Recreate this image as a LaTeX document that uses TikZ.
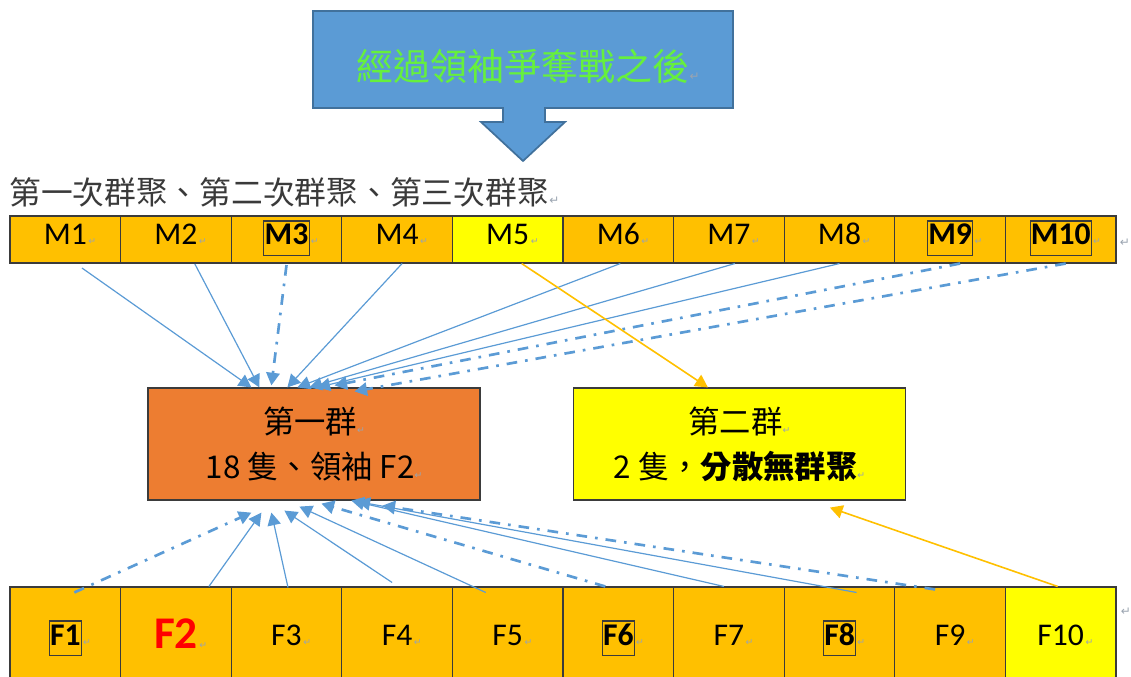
\documentclass[tikz,border=0pt]{standalone}
\usepackage{fontspec}
\setmainfont{Carlito}
\newfontfamily\cjk{Noto Sans CJK TC}
\newfontfamily\sym{DejaVu Sans}
\usetikzlibrary{arrows.meta,calc}
\definecolor{cellor}{HTML}{FFC000}
\definecolor{cellye}{HTML}{FFFF00}
\definecolor{grpor}{HTML}{ED7D31}
\definecolor{lnblue}{HTML}{5B9BD5}
\definecolor{lnor}{HTML}{FFC000}
\definecolor{bluefill}{HTML}{5B9BD5}
\definecolor{blueedge}{HTML}{41719C}
\definecolor{titlegreen}{RGB}{102,240,60}
\definecolor{edgec}{HTML}{3B3B3B}
\definecolor{retgray}{HTML}{9AA4B0}
\definecolor{subgray}{HTML}{3A3A3A}
\begin{document}
\begin{tikzpicture}[x=0.75pt,y=-0.75pt,
  cellbox/.style={draw=edgec, line width=0.8pt, minimum width=82.95pt, minimum height=35.25pt, inner sep=0pt},
  fcellbox/.style={cellbox, minimum height=82.5pt},
  lbl/.style={inner sep=0pt, font=\fontsize{23.7}{24}\selectfont, text=black},
  boxlbl/.style={lbl, font=\bfseries\fontsize{23.7}{24}\selectfont, draw=edgec, line width=0.8pt, inner xsep=0.6pt, inner ysep=0pt, text height=18pt, text depth=8pt},
  ret/.style={inner sep=0pt, text=retgray, font=\sym\fontsize{7}{7}\selectfont},
  grp/.style={draw=edgec, line width=0.9pt, minimum width=249pt, minimum height=84pt, align=center, inner sep=0pt, font=\cjk\fontsize{23.5}{33.75}\selectfont},
  blu/.style={draw=lnblue, line width=0.9pt, -{Triangle[length=9.5pt,width=10pt]}},
  bludd/.style={blu, line width=2pt, dash pattern=on 8pt off 6pt on 2pt off 6pt},
  orn/.style={draw=lnor, line width=1.2pt, -{Triangle[length=9.5pt,width=10pt]}}
]
\useasboundingbox (0,0) rectangle (1131,677);
\clip (0,0) rectangle (1131,677);

% title callout
\draw[fill=bluefill, draw=blueedge, line width=1.3pt, line join=miter]
  (313,11) -- (733,11) -- (733,108) -- (545,108) -- (545,122) -- (565,122) -- (523,161)
  -- (481,122) -- (503,122) -- (503,108) -- (313,108) -- cycle;
\node[inner sep=0pt, text=titlegreen, font=\cjk\fontsize{27.7}{30}\selectfont] (title) at (523,66) {經過領袖爭奪戰之後};
\node[ret, anchor=base west, font=\sym\fontsize{9}{9}\selectfont] at (title.base east) {↵};

% subtitle
\node[inner sep=0pt, anchor=base west, text=subgray, font=\cjk\fontsize{23.8}{26}\selectfont] (sub) at (9,205) {第一次群聚、第二次群聚、第三次群聚};
\node[ret, anchor=base west, font=\sym\fontsize{9}{9}\selectfont] at (sub.base east) {↵};

% M row
\foreach \i/\c in {1/cellor,2/cellor,3/cellor,4/cellor,5/cellye,6/cellor,7/cellor,8/cellor,9/cellor,10/cellor}
  \node[cellbox, fill=\c] (M\i) at ({10+110.6*(\i-0.5)},239.5) {};
\foreach \i/\s in {1/lbl,2/lbl,3/boxlbl,4/lbl,5/lbl,6/lbl,7/lbl,8/lbl,9/boxlbl,10/boxlbl}{
  \node[\s, anchor=base] (tM\i) at ($(M\i.center)+(0,5.5)$) {M\i};
  \node[ret, anchor=base west] at ($(tM\i.base east)+(1,0)$) {↵};
}
\node[ret, font=\sym\fontsize{9}{9}\selectfont] at (1125,243) {↵};

% F row
\foreach \i/\c in {1/cellor,2/cellor,3/cellor,4/cellor,5/cellor,6/cellor,7/cellor,8/cellor,9/cellor,10/cellye}
  \node[fcellbox, fill=\c] (F\i) at ({10+110.6*(\i-0.5)},642) {};
\foreach \i/\s in {1/boxlbl,3/lbl,4/lbl,5/lbl,6/boxlbl,7/lbl,8/boxlbl,9/lbl,10/lbl}{
  \node[\s, anchor=base] (tF\i) at ($(F\i.center)+(0,3)$) {F\i};
  \node[ret, anchor=base west] at ($(tF\i.base east)+(1,0)$) {↵};
}
\node[lbl, anchor=base, text=red, font=\bfseries\fontsize{34}{34}\selectfont] (tF2) at ($(F2.center)+(0,6)$) {F2};
\node[ret, anchor=base west] at ($(tF2.base east)+(1,0)$) {↵};
\node[ret, font=\sym\fontsize{9}{9}\selectfont] at (1126,612) {↵};

% groups
\node[grp, fill=grpor] (G1) at (314,444) {第一群{\sym\color{retgray}\fontsize{7}{7}\selectfont ↵}\\18 隻、領袖 F2{\sym\color{retgray}\fontsize{7}{7}\selectfont ↵}};
\node[grp, fill=cellye] (G2) at (739.5,444) {第二群{\sym\color{retgray}\fontsize{7}{7}\selectfont ↵}\\2 隻，{\bfseries 分散無群聚}{\sym\color{retgray}\fontsize{7}{7}\selectfont ↵}};

% connectors from M row
\draw[blu] ($(M1.south)+(16.7,4.5)$) -- ($(G1.north west)+(104,0)$);
\draw[blu] ($(M2.south)+(19,0.5)$) -- ($(G1.north west)+(112,0)$);
\draw[bludd] ($(M3.south)+(0,1.5)$) -- ($(G1.north west)+(124,-2)$);
\draw[blu] ($(M4.south)+(5,0)$) -- ($(G1.north west)+(140,0)$);
\draw[blu] ($(M6.south)+(2,0)$) -- ($(G1.north west)+(150,0)$);
\draw[blu] ($(M7.south)+(6,0)$) -- ($(G1.north west)+(162,0)$);
\draw[blu] ($(M8.south)+(0,0)$) -- ($(G1.north west)+(170,0)$);
\draw[bludd] ($(M9.south)+(10,0)$) -- ($(G1.north west)+(187,-2)$);
\draw[bludd] ($(M10.south)+(5,0)$) -- ($(G1.north west)+(207,4)$);
\draw[orn] ($(M5.south)+(14,0)$) -- ($(G2.north west)+(135,0)$);

% connectors from F row
\draw[bludd] ($(F1.north)+(9,6)$) -- ($(G1.south west)+(104,12)$);
\draw[blu] ($(F2.north)+(33,0)$) -- ($(G1.south west)+(114,12)$);
\draw[blu] ($(F3.north)+(1.5,1)$) -- ($(G1.south west)+(124,12)$);
\draw[blu] ($(F4.north)+(-5,-4)$) -- ($(G1.south west)+(137,10)$);
\draw[blu] ($(F5.north)+(-22,6)$) -- ($(G1.south west)+(152,6)$);
\draw[bludd] ($(F6.north)+(-13,0)$) -- ($(G1.south west)+(174,3)$);
\draw[blu] ($(F7.north)+(-5,0)$) -- ($(G1.south west)+(204,0)$);
\draw[blu] ($(F8.north)+(17,6)$) -- ($(G1.south west)+(210,1)$);
\draw[bludd] ($(F9.north)+(-15,3)$) -- ($(G1.south west)+(235,5)$);
\draw[orn] ($(F10.north)+(-3,0)$) -- ($(G2.south west)+(257,7)$);
\end{tikzpicture}
\end{document}
